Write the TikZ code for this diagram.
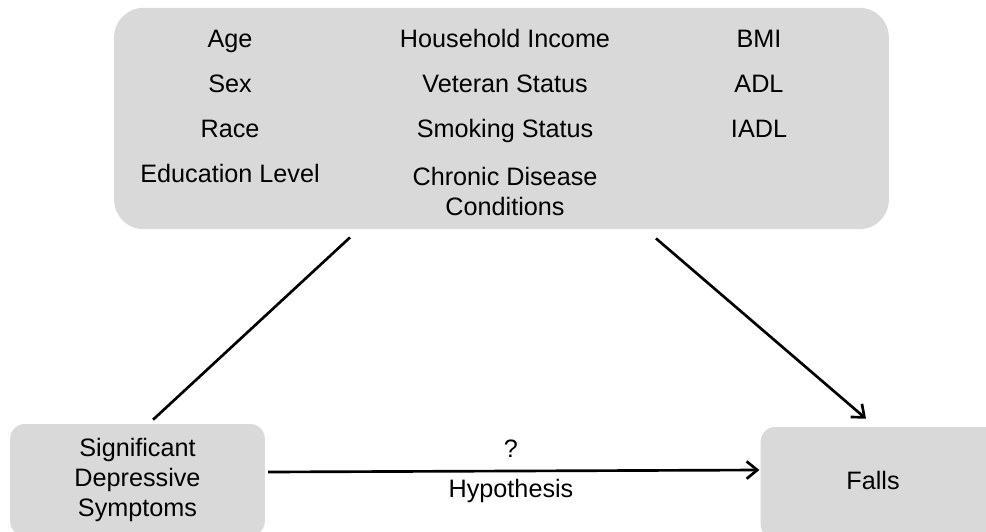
\documentclass[tikz,border=0pt]{standalone}
\usepackage{fontspec}
\setmainfont{Liberation Sans}
\usetikzlibrary{arrows.meta, positioning, calc}
\definecolor{boxgray}{RGB}{217,217,217}

\begin{document}
\begin{tikzpicture}[
    x=0.75pt, y=-0.75pt,
    every node/.style={font=\fontsize{18.9}{22.5}\selectfont},
    covbox/.style={fill=boxgray, draw=none, rounded corners=22pt, minimum width=581pt, minimum height=166pt},
    varbox/.style={fill=boxgray, draw=none, rounded corners=11pt, minimum height=84pt, align=center},
    item/.style={inner sep=0pt, align=center},
    row/.style={item, text height=13.5pt, text depth=4pt},
    line/.style={line width=2pt, color=black},
    arr/.style={-{Straight Barb[length=8pt, width=13pt]}, line width=2pt, color=black},
]
\clip (0,0) rectangle (986,532);

% Covariates
\node[covbox] (cov) at (501.5,118.5) {};
\foreach \t/\y [count=\i] in {Age/41, Sex/86, Race/131, Education Level/176}
    \node[row] (left\i) at (230,\y) {\t};
\foreach \t/\y [count=\i] in {Household Income/41, Veteran Status/86, Smoking Status/131}
    \node[row] (mid\i) at (505,\y) {\t};
\node[item] (mid4) at (505,191) {Chronic Disease\\Conditions};
\foreach \t/\y [count=\i] in {BMI/41, ADL/86, IADL/131}
    \node[row] (right\i) at (759,\y) {\t};

% Exposure and outcome
\node[varbox, minimum width=191pt] (sds) at (137.5,480) {Significant\\Depressive\\Symptoms};
\node[varbox, minimum width=200pt] (falls) at (894,483) {};
\node[row] (fallstxt) at (873,483) {Falls};

% Paths
\draw[line] ($(cov.south)+(-151.5,8)$) -- ($(sds.north)+(15.5,-4)$);
\draw[arr] ($(cov.south)+(154.5,9)$) -- ($(falls.north)+(-28,-8)$);
\draw[arr] ($(sds.east)+(3,-8)$) -- ($(falls.west)+(-1,-13)$);

% Hypothesis
\node[row] (quest) at (511,451) {?};
\node[row] (hyp) at (511,491) {Hypothesis};

\end{tikzpicture}
\end{document}
